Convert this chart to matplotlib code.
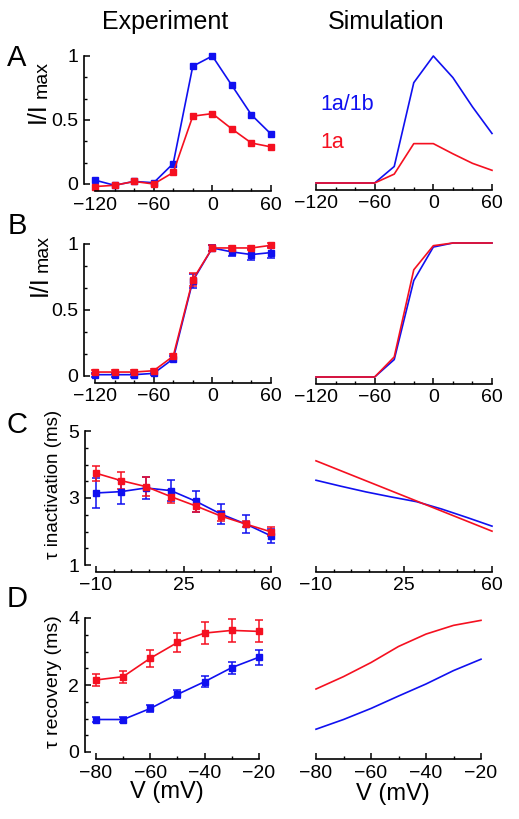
import numpy as np
import matplotlib
matplotlib.use('Agg')
import matplotlib.pyplot as plt
from matplotlib.ticker import FixedLocator

plt.rcParams['font.family'] = ['Liberation Sans', 'DejaVu Sans']

BLUE = '#1010f0'
RED = '#f51020'

# ---- data ----
# A: activation, experiment
vA = [-120, -100, -80, -60, -40, -20, 0, 20, 40, 60]
expA_1a1b = [0.03, -0.01, 0.02, 0.01, 0.16, 0.92, 1.0, 0.77, 0.54, 0.39]
expA_1a = [-0.02, -0.01, 0.02, 0.0, 0.09, 0.53, 0.55, 0.43, 0.32, 0.29]
# A: simulation
simA_1a1b = [0.0, 0.0, 0.0, 0.0, 0.13, 0.79, 1.0, 0.83, 0.60, 0.39]
simA_1a = [0.0, 0.0, 0.0, 0.0, 0.07, 0.31, 0.31, 0.23, 0.155, 0.10]

# B: normalised, experiment (mean +- err)
vB = [-120, -100, -80, -60, -40, -20, 0, 20, 40, 60]
expB_1a1b = [0.01, 0.01, 0.01, 0.02, 0.13, 0.72, 0.97, 0.94, 0.92, 0.935]
errB_1a1b = [0.015, 0.015, 0.015, 0.015, 0.02, 0.05, 0.02, 0.03, 0.04, 0.04]
expB_1a = [0.03, 0.03, 0.03, 0.04, 0.15, 0.73, 0.97, 0.97, 0.97, 0.99]
errB_1a = [0.015, 0.015, 0.015, 0.015, 0.02, 0.05, 0.02, 0.015, 0.015, 0.02]
simB_1a1b = [0.0, 0.0, 0.0, 0.0, 0.13, 0.72, 0.97, 1.0, 1.0, 1.0]
simB_1a = [0.0, 0.0, 0.0, 0.0, 0.15, 0.80, 0.98, 1.0, 1.0, 1.0]

# C: tau inactivation
vC = [-10, 0, 10, 20, 30, 40, 50, 60]
expC_1a1b = [3.15, 3.19, 3.30, 3.22, 2.90, 2.52, 2.22, 1.87]
errC_1a1b = [0.45, 0.36, 0.32, 0.32, 0.32, 0.30, 0.26, 0.20]
expC_1a = [3.74, 3.52, 3.34, 3.04, 2.76, 2.46, 2.22, 1.99]
errC_1a = [0.23, 0.25, 0.29, 0.19, 0.17, 0.16, 0.10, 0.13]
simC_1a1b = [3.53, 3.35, 3.18, 3.03, 2.89, 2.67, 2.42, 2.16]
simC_1a = [4.11, 3.81, 3.51, 3.21, 2.91, 2.61, 2.31, 2.01]

# D: tau recovery
vD = [-80, -70, -60, -50, -40, -30, -20]
expD_1a1b = [0.97, 0.97, 1.30, 1.72, 2.10, 2.52, 2.83]
errD_1a1b = [0.08, 0.06, 0.10, 0.12, 0.17, 0.18, 0.22]
expD_1a = [2.15, 2.25, 2.80, 3.27, 3.55, 3.63, 3.60]
errD_1a = [0.18, 0.18, 0.25, 0.27, 0.33, 0.35, 0.33]
simD_1a1b = [0.68, 0.97, 1.30, 1.67, 2.03, 2.43, 2.77]
simD_1a = [1.88, 2.25, 2.67, 3.15, 3.52, 3.78, 3.93]

W, H = 519, 819
fig = plt.figure(figsize=(W / 100, H / 100), dpi=100)


def px_axes(x0, x1, ytop, ybot):
    return fig.add_axes([x0 / W, 1 - ybot / H, (x1 - x0) / W, (ybot - ytop) / H])


def style(ax, xlim, ylim, xmaj, xmin, ymaj=None, ymin=None, left=True):
    ax.set_xlim(*xlim)
    ax.set_ylim(*ylim)
    ax.patch.set_visible(False)
    for s in ['top', 'right']:
        ax.spines[s].set_visible(False)
    ax.spines['bottom'].set_position(('outward', 5))
    ax.spines['bottom'].set_bounds(*xlim)
    ax.spines['bottom'].set_linewidth(1.2)
    ax.xaxis.set_major_locator(FixedLocator(xmaj))
    ax.xaxis.set_minor_locator(FixedLocator(xmin))
    ax.tick_params(axis='x', which='major', direction='in', length=4, width=1.1, labelsize=14, pad=4)
    ax.tick_params(axis='x', which='minor', direction='in', length=2.5, width=1)
    if left:
        ax.spines['left'].set_position(('outward', 8))
        ax.spines['left'].set_bounds(*ylim)
        ax.spines['left'].set_linewidth(1.2)
        ax.yaxis.set_major_locator(FixedLocator(ymaj))
        ax.yaxis.set_minor_locator(FixedLocator(ymin))
        ax.tick_params(axis='y', which='major', direction='in', length=4, width=1.1, labelsize=14, pad=4)
        ax.tick_params(axis='y', which='minor', direction='in', length=2.5, width=1)
    else:
        ax.spines['left'].set_visible(False)
        ax.set_yticks([])


def fmt(v):
    return '%g' % v


mk = dict(marker='s', markersize=5, lw=1.2, clip_on=False)
eb = dict(fmt='-s', markersize=5, lw=1.2, elinewidth=1.1, capsize=3, capthick=1.1, clip_on=False)

# ---- A ----
ax = px_axes(95, 271, 56, 184)
ax.plot(vA, expA_1a1b, color=BLUE, **mk)
ax.plot(vA, expA_1a, color=RED, **mk)
style(ax, (-120, 60), (0, 1), [-120, -60, 0, 60], np.arange(-120, 61, 20), [0, 0.5, 1], np.arange(0, 1.01, 1 / 6))
ax.yaxis.set_major_formatter(plt.FuncFormatter(lambda v, p: fmt(v)))

ax = px_axes(316, 492, 56, 183)
ax.plot(vA, simA_1a1b, color=BLUE, lw=1.2, clip_on=False)
ax.plot(vA, simA_1a, color=RED, lw=1.2, clip_on=False)
style(ax, (-120, 60), (0, 1), [-120, -60, 0, 60], np.arange(-120, 61, 20), left=False)
fig.text(320 / W, 1 - 105 / H, '1a/1b', color=BLUE, fontsize=15.5, ha='left', va='center')
fig.text(320 / W, 1 - 142 / H, '1a', color=RED, fontsize=15.5, ha='left', va='center')

# ---- B ----
ax = px_axes(95, 271, 244, 376)
ax.errorbar(vB, expB_1a1b, yerr=errB_1a1b, color=BLUE, **eb)
ax.errorbar(vB, expB_1a, yerr=errB_1a, color=RED, **eb)
style(ax, (-120, 60), (0, 1), [-120, -60, 0, 60], np.arange(-120, 61, 20), [0, 0.5, 1], np.arange(0, 1.01, 1 / 6))
ax.yaxis.set_major_formatter(plt.FuncFormatter(lambda v, p: fmt(v)))

ax = px_axes(316, 492, 243, 377)
ax.plot(vB, simB_1a1b, color=BLUE, lw=1.2, clip_on=False)
ax.plot(vB, simB_1a, color=RED, lw=1.2, clip_on=False)
style(ax, (-120, 60), (0, 1), [-120, -60, 0, 60], np.arange(-120, 61, 20), left=False)

# ---- C ----
ax = px_axes(96, 271, 431, 565)
ax.errorbar(vC, expC_1a1b, yerr=errC_1a1b, color=BLUE, **eb)
ax.errorbar(vC, expC_1a, yerr=errC_1a, color=RED, **eb)
style(ax, (-10, 60), (1, 5), [-10, 25, 60], np.arange(-10, 61, 7), [1, 3, 5], np.arange(1, 5.01, 0.5))

ax = px_axes(316, 492, 431, 565)
ax.plot(vC, simC_1a1b, color=BLUE, lw=1.2, clip_on=False)
ax.plot(vC, simC_1a, color=RED, lw=1.2, clip_on=False)
style(ax, (-10, 60), (1, 5), [-10, 25, 60], np.arange(-10, 61, 7), left=False)

# ---- D ----
ax = px_axes(96, 259, 618, 752)
ax.errorbar(vD, expD_1a1b, yerr=errD_1a1b, color=BLUE, **eb)
ax.errorbar(vD, expD_1a, yerr=errD_1a, color=RED, **eb)
style(ax, (-80, -20), (0, 4), [-80, -60, -40, -20], np.arange(-80, -19, 10), [0, 2, 4], np.arange(0, 4.01, 0.5))

ax = px_axes(316, 481, 618, 752)
ax.plot(vD, simD_1a1b, color=BLUE, lw=1.2, clip_on=False)
ax.plot(vD, simD_1a, color=RED, lw=1.2, clip_on=False)
style(ax, (-80, -20), (0, 4), [-80, -60, -40, -20], np.arange(-80, -19, 10), left=False)

# ---- labels ----
def t(x, y, s, **kw):
    fig.text(x / W, 1 - y / H, s, ha='center', va='center', **kw)

t(165, 22, 'Experiment', fontsize=18)
t(386, 22, 'Simulation', fontsize=18)
for lab, y in zip('ABCD', [58, 226, 425, 599]):
    t(17, y, lab, fontsize=21)

t(38, 113, 'I/I', fontsize=18, rotation=90)
t(42, 80, 'max', fontsize=14, rotation=90)
t(40, 286, 'I/I', fontsize=18, rotation=90)
t(43, 253, 'max', fontsize=14, rotation=90)
t(54, 484, '\u03c4 inactivation (ms)', fontsize=13.5, rotation=90)
t(54, 682, '\u03c4 recovery (ms)', fontsize=14, rotation=90)
t(167, 792, 'V (mV)', fontsize=17)
t(393, 794, 'V (mV)', fontsize=17)

fig.savefig('out.png', dpi=100)
